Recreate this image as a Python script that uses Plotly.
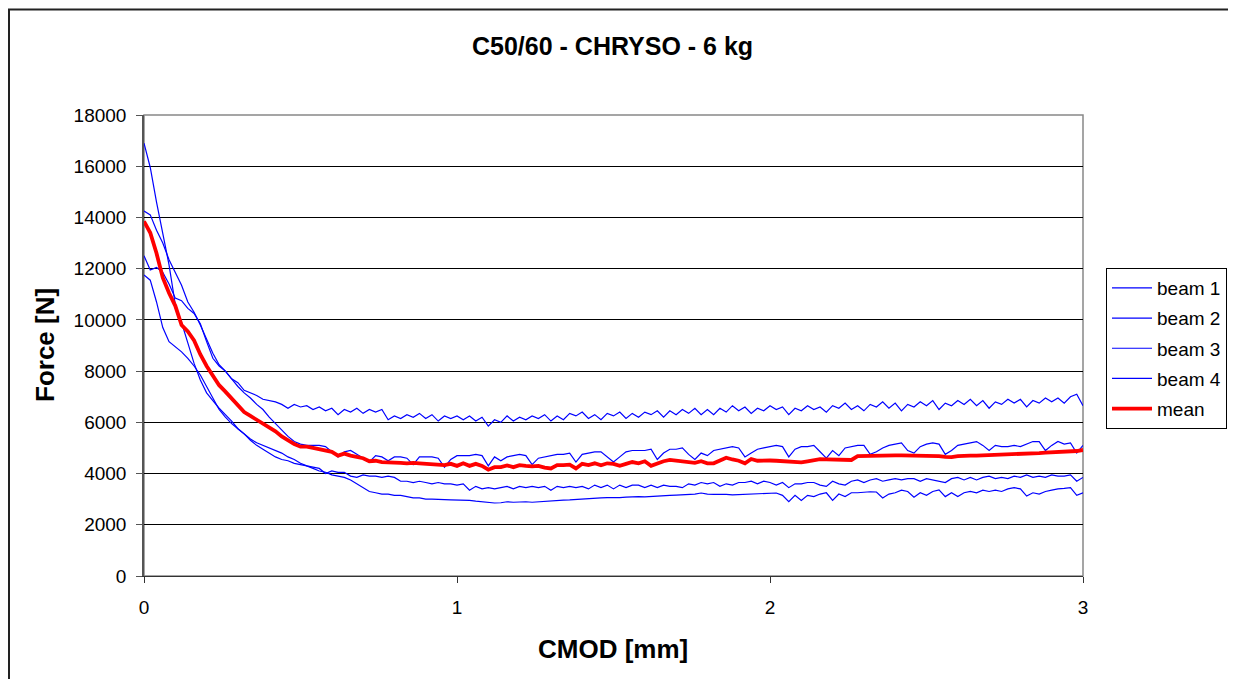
import plotly.graph_objects as go

cmod = [
    0.00, 0.02, 0.04, 0.06, 0.08, 0.10, 0.12, 0.14, 0.16, 0.18,
    0.20, 0.22, 0.24, 0.26, 0.28, 0.30, 0.32, 0.34, 0.36, 0.38,
    0.40, 0.42, 0.44, 0.46, 0.48, 0.50, 0.52, 0.54, 0.56, 0.58,
    0.60, 0.62, 0.64, 0.66, 0.68, 0.70, 0.72, 0.74, 0.76, 0.78,
    0.80, 0.82, 0.84, 0.86, 0.88, 0.90, 0.92, 0.94, 0.96, 0.98,
    1.00, 1.02, 1.04, 1.06, 1.08, 1.10, 1.12, 1.14, 1.16, 1.18,
    1.20, 1.22, 1.24, 1.26, 1.28, 1.30, 1.32, 1.34, 1.36, 1.38,
    1.40, 1.42, 1.44, 1.46, 1.48, 1.50, 1.52, 1.54, 1.56, 1.58,
    1.60, 1.62, 1.64, 1.66, 1.68, 1.70, 1.72, 1.74, 1.76, 1.78,
    1.80, 1.82, 1.84, 1.86, 1.88, 1.90, 1.92, 1.94, 1.96, 1.98,
    2.00, 2.02, 2.04, 2.06, 2.08, 2.10, 2.12, 2.14, 2.16, 2.18,
    2.20, 2.22, 2.24, 2.26, 2.28, 2.30, 2.32, 2.34, 2.36, 2.38,
    2.40, 2.42, 2.44, 2.46, 2.48, 2.50, 2.52, 2.54, 2.56, 2.58,
    2.60, 2.62, 2.64, 2.66, 2.68, 2.70, 2.72, 2.74, 2.76, 2.78,
    2.80, 2.82, 2.84, 2.86, 2.88, 2.90, 2.92, 2.94, 2.96, 2.98,
    3.00,
]

beam1 = [
    16900, 15950, 14600, 13400, 12150, 10600, 9900, 9100, 8300, 7650,
    7150, 6850, 6550, 6300, 6050, 5750, 5550, 5350, 5200, 5100,
    5000, 4900, 4800, 4650, 4550, 4400, 4300, 4250, 4200, 4000,
    4100, 4050, 4050, 3900, 3850, 3950, 3900, 3900, 3850, 3900,
    3850, 3700, 3700, 3650, 3700, 3650, 3600, 3650, 3600, 3600,
    3550, 3600, 3350, 3500, 3400, 3450, 3400, 3450, 3500, 3400,
    3500, 3450, 3500, 3450, 3500, 3350, 3500, 3450, 3500, 3450,
    3500, 3400, 3550, 3450, 3550, 3400, 3550, 3450, 3550, 3550,
    3450, 3550, 3450, 3550, 3500, 3500, 3450, 3600, 3550, 3650,
    3600, 3650, 3500, 3600, 3550, 3650, 3650, 3700, 3600, 3700,
    3650, 3550, 3650, 3450, 3600, 3600, 3650, 3650, 3550, 3500,
    3700, 3600, 3550, 3700, 3750, 3650, 3750, 3800, 3700, 3750,
    3800, 3750, 3800, 3800, 3700, 3800, 3750, 3700, 3650, 3800,
    3850, 3750, 3850, 3750, 3850, 3900, 3800, 3850, 3800, 3900,
    3850, 3950, 3850, 3900, 3850, 3950, 3900, 3900, 3950, 3700,
    3850,
]

beam2 = [
    14250, 14100, 13500, 13000, 12350, 11850, 11350, 10700, 10300, 9800,
    9250, 8700, 8250, 8000, 7700, 7400, 7150, 6950, 6700, 6500,
    6200, 5950, 5700, 5450, 5250, 5150, 5100, 5100, 5100, 5050,
    4850, 4650, 4850, 4900, 4750, 4600, 4450, 4700, 4650, 4500,
    4650, 4650, 4600, 4350, 4650, 4650, 4650, 4600, 4250, 4550,
    4700, 4700, 4700, 4750, 4700, 4300, 4650, 4500, 4650, 4700,
    4750, 4700, 4350, 4600, 4650, 4700, 4750, 4750, 4800, 4450,
    4750, 4800, 4850, 4850, 4650, 4450, 4650, 4850, 4900, 4900,
    4900, 4950, 4550, 4800, 4950, 4950, 5000, 4750, 4550, 4800,
    4700, 4900, 4950, 5000, 5050, 5000, 4650, 4800, 4950, 5000,
    5050, 5100, 5050, 4650, 4950, 5050, 5050, 5100, 4850, 4600,
    4900, 4700, 5000, 5050, 5100, 5100, 4750, 4850, 5000, 5100,
    5150, 5200, 4900, 4800, 5050, 5150, 5200, 5150, 4750, 4900,
    5100, 5150, 5200, 5250, 5100, 4900, 5100, 5050, 5050, 5100,
    5050, 5150, 5250, 5250, 4900, 5100, 5250, 5150, 5200, 4800,
    5100,
]

beam3 = [
    12500, 11950, 12050, 11850, 11400, 10850, 10750, 10450, 10250, 9850,
    9150, 8500, 8200, 8000, 7700, 7550, 7250, 7150, 7050, 6900,
    6850, 6800, 6700, 6550, 6700, 6600, 6650, 6500, 6600, 6450,
    6550, 6300, 6500, 6400, 6550, 6350, 6500, 6400, 6500, 6100,
    6250, 6150, 6300, 6200, 6350, 6150, 6300, 6050, 6250, 6150,
    6250, 6100, 6250, 6050, 6200, 5850, 6100, 6000, 6250, 6050,
    6200, 6100, 6250, 6150, 6300, 6050, 6250, 6100, 6350, 6250,
    6400, 6150, 6300, 6100, 6350, 6250, 6400, 6150, 6350, 6200,
    6400, 6300, 6450, 6200, 6450, 6300, 6500, 6350, 6550, 6300,
    6500, 6300, 6550, 6400, 6650, 6450, 6600, 6350, 6550, 6450,
    6650, 6500, 6600, 6300, 6550, 6450, 6650, 6500, 6600, 6400,
    6650, 6550, 6750, 6500, 6650, 6450, 6700, 6600, 6800, 6550,
    6750, 6450, 6700, 6600, 6800, 6650, 6850, 6500, 6750, 6650,
    6850, 6700, 6900, 6650, 6850, 6550, 6800, 6700, 6900, 6750,
    6900, 6600, 6850, 6750, 6950, 6800, 6950, 6750, 7000, 7100,
    6650,
]

beam4 = [
    11750, 11550, 10700, 9700, 9150, 8950, 8750, 8500, 8200, 7850,
    7400, 6900, 6500, 6200, 5950, 5750, 5550, 5300, 5100, 4950,
    4800, 4650, 4550, 4500, 4400, 4350, 4300, 4200, 4100, 4050,
    3950, 3900, 3850, 3750, 3600, 3450, 3300, 3250, 3200, 3200,
    3150, 3150, 3100, 3050, 3050, 3000, 3000, 3000, 2980, 2970,
    2970, 2950, 2950, 2920, 2900, 2880, 2850, 2860, 2900, 2880,
    2900, 2900, 2880, 2900, 2920, 2930, 2950, 2960, 2970, 2990,
    3000, 3010, 3030, 3050, 3060, 3050, 3060, 3080, 3100, 3100,
    3090, 3110, 3120, 3130, 3150, 3160, 3170, 3180, 3200, 3240,
    3200, 3190, 3200, 3190, 3170, 3180, 3200, 3190, 3200, 3220,
    3230, 3240, 3150, 2900, 3150, 2950, 3150, 3100, 3200, 3250,
    2950, 3200, 3100, 3250, 3250, 3270, 3290, 3280, 3050, 3200,
    3250, 3350, 3300, 3080, 3250, 3150, 3300, 3360, 3100, 3250,
    3100, 3250, 3300, 3250, 3350, 3300, 3350, 3300, 3400, 3450,
    3400, 3120, 3250, 3200, 3300, 3350, 3400, 3420, 3450, 3150,
    3250,
]

mean = [
    13850, 13400, 12600, 11650, 11050, 10550, 9800, 9550, 9200, 8650,
    8200, 7800, 7450, 7200, 6950, 6650, 6400, 6250, 6100, 5950,
    5800, 5650, 5450, 5300, 5150, 5050, 5050, 5000, 4950, 4900,
    4850, 4700, 4780, 4700, 4650, 4600, 4480, 4500, 4450, 4450,
    4420, 4420, 4400, 4420, 4400, 4380, 4380, 4360, 4330, 4380,
    4300, 4400, 4300, 4380, 4300, 4150, 4250, 4250, 4320, 4250,
    4330, 4300, 4280, 4300, 4230, 4200, 4330, 4330, 4350, 4200,
    4380, 4330, 4400, 4320, 4400, 4380, 4300, 4380, 4450, 4400,
    4480, 4300, 4400, 4480, 4530, 4500, 4500, 4450, 4420, 4480,
    4400, 4400, 4520, 4620, 4550, 4500, 4400, 4570, 4500, 4520,
    4510, 4500, 4490, 4480, 4460, 4440, 4480, 4520, 4560, 4550,
    4540, 4530, 4530, 4530, 4680, 4690, 4700, 4700, 4700, 4700,
    4710, 4710, 4710, 4710, 4710, 4700, 4700, 4680, 4650, 4640,
    4680, 4700, 4700, 4700, 4710, 4710, 4720, 4720, 4720, 4730,
    4760, 4780, 4790, 4800, 4820, 4830, 4840, 4850, 4870, 4880,
    4920,
]

series_names = ["beam 1", "beam 2", "beam 3", "beam 4", "mean"]
y_ticks = [0, 2000, 4000, 6000, 8000, 10000, 12000, 14000, 16000, 18000]
x_ticks = [0, 1, 2, 3]

FONT = "Liberation Sans, Arial, sans-serif"
BLUE = "#0000FF"
RED = "#FF0000"

fig = go.Figure()
for name, vals in zip(series_names[:4], [beam1, beam2, beam3, beam4]):
    fig.add_trace(go.Scatter(x=cmod, y=vals, mode="lines", name=name,
                             legendgroup=name,
                             line=dict(color=BLUE, width=1.2)))
fig.add_trace(go.Scatter(x=cmod, y=mean, mode="lines", name=series_names[4],
                         legendgroup=series_names[4],
                         line=dict(color=RED, width=3.8)))

# page body has an 8 px margin; work in screen coordinates and convert
OFF = 8
W, H = 1236, 671
SL, SR, ST, SB = 144, 1083, 115, 576          # plot area in screen px
L, R, T, B = SL - OFF, SR - OFF, ST - OFF, SB - OFF
pw, ph = R - L, B - T

def px(xs):
    return (xs - OFF - L) / pw

def py(ys):
    return (B - (ys - OFF)) / ph

fig.update_layout(
    width=W, height=H,
    margin=dict(l=L, r=W - R, t=T, b=H - B, pad=0),
    paper_bgcolor="white", plot_bgcolor="white",
    font=dict(family=FONT, color="black", size=19),
    showlegend=True,
    legend=dict(
        x=px(1106), y=py(268), xanchor="left", yanchor="top",
        bordercolor="black", borderwidth=1, bgcolor="white",
        font=dict(family=FONT, size=19, color="black"),
        itemwidth=40, tracegroupgap=2.5,
    ),
    xaxis=dict(
        range=[0, 3], tickvals=x_ticks, ticktext=[str(v) for v in x_ticks],
        showgrid=False, zeroline=False, showline=True, linecolor="#333333",
        linewidth=1, ticks="outside", ticklen=6, tickcolor="#333333",
        ticklabelstandoff=8, tickfont=dict(size=19),
    ),
    yaxis=dict(
        range=[0, 18000], tickvals=y_ticks, ticktext=[str(v) for v in y_ticks],
        showgrid=True, gridcolor="black", gridwidth=1, zeroline=False,
        showline=True, linecolor="#555555", linewidth=1.5,
        ticks="outside", ticklen=6, tickcolor="#555555",
        ticklabelstandoff=6, tickfont=dict(size=19),
    ),
    shapes=[
        dict(type="rect", xref="paper", yref="paper", x0=0, x1=1, y0=0, y1=1,
             line=dict(color="#888888", width=1.5), layer="below"),
        dict(type="rect", xref="paper", yref="paper",
             x0=px(9), x1=px(1231), y0=py(720), y1=py(9.5),
             line=dict(color="#222222", width=2), fillcolor="rgba(0,0,0,0)"),
    ],
    annotations=[
        dict(text="<b>C50/60 - CHRYSO - 6 kg</b>", xref="paper", yref="paper",
             x=px(612), y=py(46), xanchor="center", yanchor="middle",
             showarrow=False, font=dict(family=FONT, size=25, color="black")),
        dict(text="<b>CMOD [mm]</b>", xref="paper", yref="paper",
             x=px(613), y=py(649), xanchor="center", yanchor="middle",
             showarrow=False, font=dict(family=FONT, size=26, color="black")),
        dict(text="<b>Force [N]</b>", xref="paper", yref="paper",
             x=px(45), y=py(345), xanchor="center", yanchor="middle",
             textangle=-90, showarrow=False,
             font=dict(family=FONT, size=26, color="black")),
    ],
)

fig.write_html("out.html")
